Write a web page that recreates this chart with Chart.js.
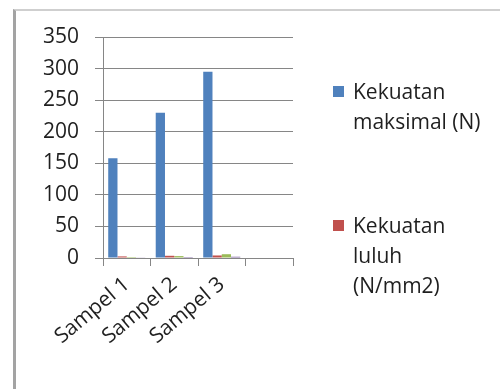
<!DOCTYPE html>
<html>
<head>
<meta charset="utf-8">
<script src="https://cdn.jsdelivr.net/npm/chart.js@4/dist/chart.umd.min.js"></script>
<style>
  html, body { margin: 0; padding: 0; background: #fff; width: 500px; height: 389px; overflow: hidden; }
  #frame { position: absolute; left: 13px; top: 9px; width: 620px; height: 520px;
           border-left: 3px solid #a3a3a3; border-top: 2px solid #cfcfcf; }
  #wrap { position: absolute; left: 0; top: 0; width: 500px; height: 389px; }
  #legend { position: absolute; left: 0; top: 0; width: 500px; height: 389px; pointer-events: none;
            font-family: "Open Sans", Lato, sans-serif; font-size: 21px; line-height: 30px; color: #1f1f1f; }
  .item { position: absolute; left: 353px; }
  .swatch { position: absolute; left: -20px; top: 10px; width: 11px; height: 11px; }
</style>
</head>
<body>
<div id="frame"></div>
<div id="wrap"><canvas id="c" width="500" height="389"></canvas></div>
<div id="legend"></div>
<script>
// Categories and series values
const categories = ['Sampel 1', 'Sampel 2', 'Sampel 3', ''];
const kekuatanMaksimal = [158, 230, 295, null];
const kekuatanLuluh = [2.5, 3.5, 4, null];
const seriesKetiga = [1.5, 3, 6, null];
const seriesKeempat = [1, 1.5, 2, null];
const yTicks = [0, 50, 100, 150, 200, 250, 300, 350];

// Legend entries (text lines as wrapped in the legend box)
const legendLines = [
  ['Kekuatan', 'maksimal (N)'],
  ['Kekuatan', 'luluh', '(N/mm2)']
];

const seriesColors = ['#4F81BD', '#C0504D', '#9BBB59', '#8064A2'];
const gridColor = '#868686';
const textColor = '#1f1f1f';
const tickFont = { family: '"Open Sans", Lato, sans-serif', size: 21 };

const chart = new Chart(document.getElementById('c'), {
  type: 'bar',
  data: {
    labels: categories,
    datasets: [
      { label: legendLines[0].join(' '), data: kekuatanMaksimal, backgroundColor: seriesColors[0] },
      { label: legendLines[1].join(' '), data: kekuatanLuluh, backgroundColor: seriesColors[1] },
      { label: '', data: seriesKetiga, backgroundColor: seriesColors[2] },
      { label: '', data: seriesKeempat, backgroundColor: seriesColors[3] }
    ]
  },
  options: {
    responsive: false,
    animation: false,
    devicePixelRatio: 1,
    layout: { padding: { left: 0, right: 207, top: 37, bottom: 0 } },
    datasets: { bar: { categoryPercentage: 0.78, barPercentage: 1 } },
    plugins: { legend: { display: false }, tooltip: { enabled: false } },
    scales: {
      x: {
        offset: true,
        grid: { offset: true, drawOnChartArea: false, drawTicks: true, tickLength: 8, color: gridColor },
        border: { display: true, color: gridColor },
        ticks: { minRotation: 40, maxRotation: 40, autoSkip: false, padding: 6, color: textColor, font: tickFont },
        afterFit: s => { s.height = 131; }
      },
      y: {
        min: 0,
        max: 350,
        afterBuildTicks: s => { s.ticks = yTicks.map(v => ({ value: v })); },
        grid: { color: gridColor, tickLength: 8 },
        border: { display: true, color: gridColor },
        ticks: { padding: 16, color: textColor, font: tickFont },
        afterFit: s => { s.width = 103; }
      }
    }
  }
});

// HTML legend built from the first two datasets
const legendTops = [76, 210];
const legendEl = document.getElementById('legend');
legendLines.forEach((lines, i) => {
  const item = document.createElement('div');
  item.className = 'item';
  item.style.top = legendTops[i] + 'px';
  const sw = document.createElement('div');
  sw.className = 'swatch';
  sw.style.background = chart.data.datasets[i].backgroundColor;
  item.appendChild(sw);
  lines.forEach(t => {
    const line = document.createElement('div');
    line.textContent = t;
    item.appendChild(line);
  });
  legendEl.appendChild(item);
});
</script>
</body>
</html>
